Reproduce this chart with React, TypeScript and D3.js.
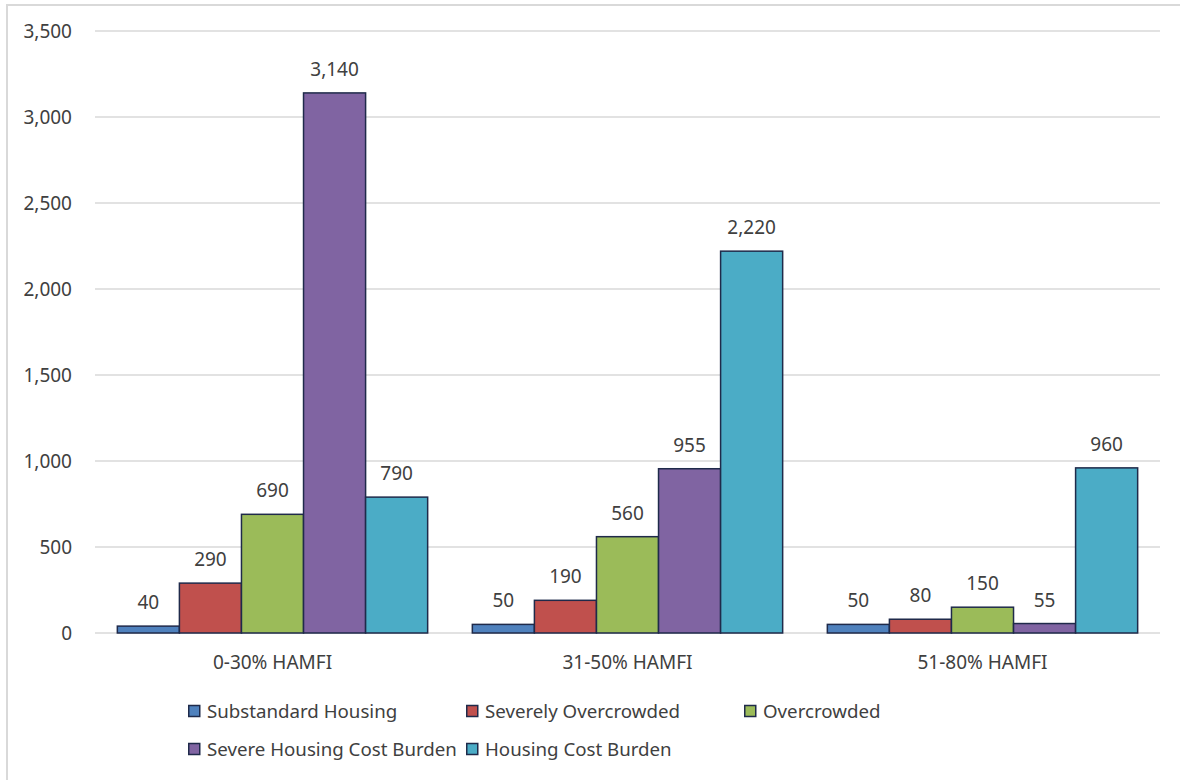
import React, { useEffect, useRef } from "react";
import * as d3 from "d3";

const categories = ["0-30% HAMFI", "31-50% HAMFI", "51-80% HAMFI"];
const seriesNames = [
  "Substandard Housing",
  "Severely Overcrowded",
  "Overcrowded",
  "Severe Housing Cost Burden",
  "Housing Cost Burden",
];
const seriesColors = ["#4f81bd", "#c0504d", "#9bbb59", "#8064a2", "#4bacc6"];
const substandard = [40, 50, 50];
const severelyOvercrowded = [290, 190, 80];
const overcrowded = [690, 560, 150];
const severeCostBurden = [3140, 955, 55];
const costBurden = [790, 2220, 960];
const yTicks = [0, 500, 1000, 1500, 2000, 2500, 3000, 3500];

const seriesValues = [substandard, severelyOvercrowded, overcrowded, severeCostBurden, costBurden];

const W = 1180;
const H = 780;
const FONT = "'Noto Sans', 'Open Sans', sans-serif";

export default function App() {
  const ref = useRef<SVGSVGElement>(null);

  useEffect(() => {
    const svg = d3.select(ref.current);
    svg.selectAll("*").remove();

    const plot = { left: 95, right: 1160, top: 31, bottom: 633 };

    // Frame
    svg.append("rect")
      .attr("x", 7).attr("y", 5).attr("width", W + 20).attr("height", H + 20)
      .attr("fill", "#fff").attr("stroke", "#d9d9d9").attr("stroke-width", 2);

    const y = d3.scaleLinear().domain([0, 3500]).range([plot.bottom, plot.top]);
    const x0 = d3.scaleBand<string>().domain(categories).range([plot.left, plot.right]).paddingInner(0).paddingOuter(0);
    const x1 = d3.scaleBand<string>().domain(seriesNames).range([0, x0.bandwidth()]).paddingInner(0).paddingOuter(0.36);

    // gridlines
    svg.append("g").selectAll("line").data(yTicks).join("line")
      .attr("x1", plot.left).attr("x2", plot.right)
      .attr("y1", (d) => y(d)).attr("y2", (d) => y(d))
      .attr("stroke", "#d9d9d9").attr("stroke-width", 1.5);

    // y tick labels
    svg.append("g").selectAll("text").data(yTicks).join("text")
      .attr("x", 72).attr("y", (d) => y(d) + 7)
      .attr("text-anchor", "end")
      .attr("font-family", FONT).attr("font-size", 19).attr("fill", "#404040")
      .text((d) => d3.format(",")(d));

    // bars
    const data = categories.flatMap((c, ci) =>
      seriesNames.map((s, si) => ({ c, s, si, v: seriesValues[si][ci] }))
    );
    const g = svg.append("g");
    g.selectAll("rect").data(data).join("rect")
      .attr("x", (d) => x0(d.c)! + x1(d.s)!)
      .attr("y", (d) => y(d.v))
      .attr("width", x1.bandwidth())
      .attr("height", (d) => y(0) - y(d.v))
      .attr("fill", (d) => seriesColors[d.si])
      .attr("stroke", "#1f2a4a").attr("stroke-width", 1.5);

    // value labels
    g.selectAll("text").data(data).join("text")
      .attr("x", (d) => x0(d.c)! + x1(d.s)! + x1.bandwidth() / 2)
      .attr("y", (d) => y(d.v) - 17)
      .attr("text-anchor", "middle")
      .attr("font-family", FONT).attr("font-size", 19).attr("fill", "#404040")
      .text((d) => d3.format(",")(d.v));

    // category labels
    svg.append("g").selectAll("text").data(categories).join("text")
      .attr("x", (d) => x0(d)! + x0.bandwidth() / 2)
      .attr("y", 669)
      .attr("text-anchor", "middle")
      .attr("font-family", FONT).attr("font-size", 19).attr("fill", "#404040")
      .text((d) => d);

    // legend
    const legendCols = [188, 466, 744];
    const legendRows = [711, 749];
    const lg = svg.append("g").selectAll("g").data(seriesNames).join("g")
      .attr("transform", (_d, i) => `translate(${legendCols[i % 3]},${legendRows[Math.floor(i / 3)]})`);
    lg.append("rect")
      .attr("x", 0.75).attr("y", -5.5).attr("width", 11).attr("height", 11)
      .attr("fill", (_d, i) => seriesColors[i])
      .attr("stroke", "#1f2a4a").attr("stroke-width", 1.5);
    lg.append("text")
      .attr("x", 19).attr("y", 6.5)
      .attr("font-family", FONT).attr("font-size", 18.7).attr("fill", "#404040")
      .text((d) => d);
  }, []);

  return (
    <svg ref={ref} width={W} height={H} style={{ position: "absolute", left: 0, top: 0, background: "#fff" }} />
  );
}
